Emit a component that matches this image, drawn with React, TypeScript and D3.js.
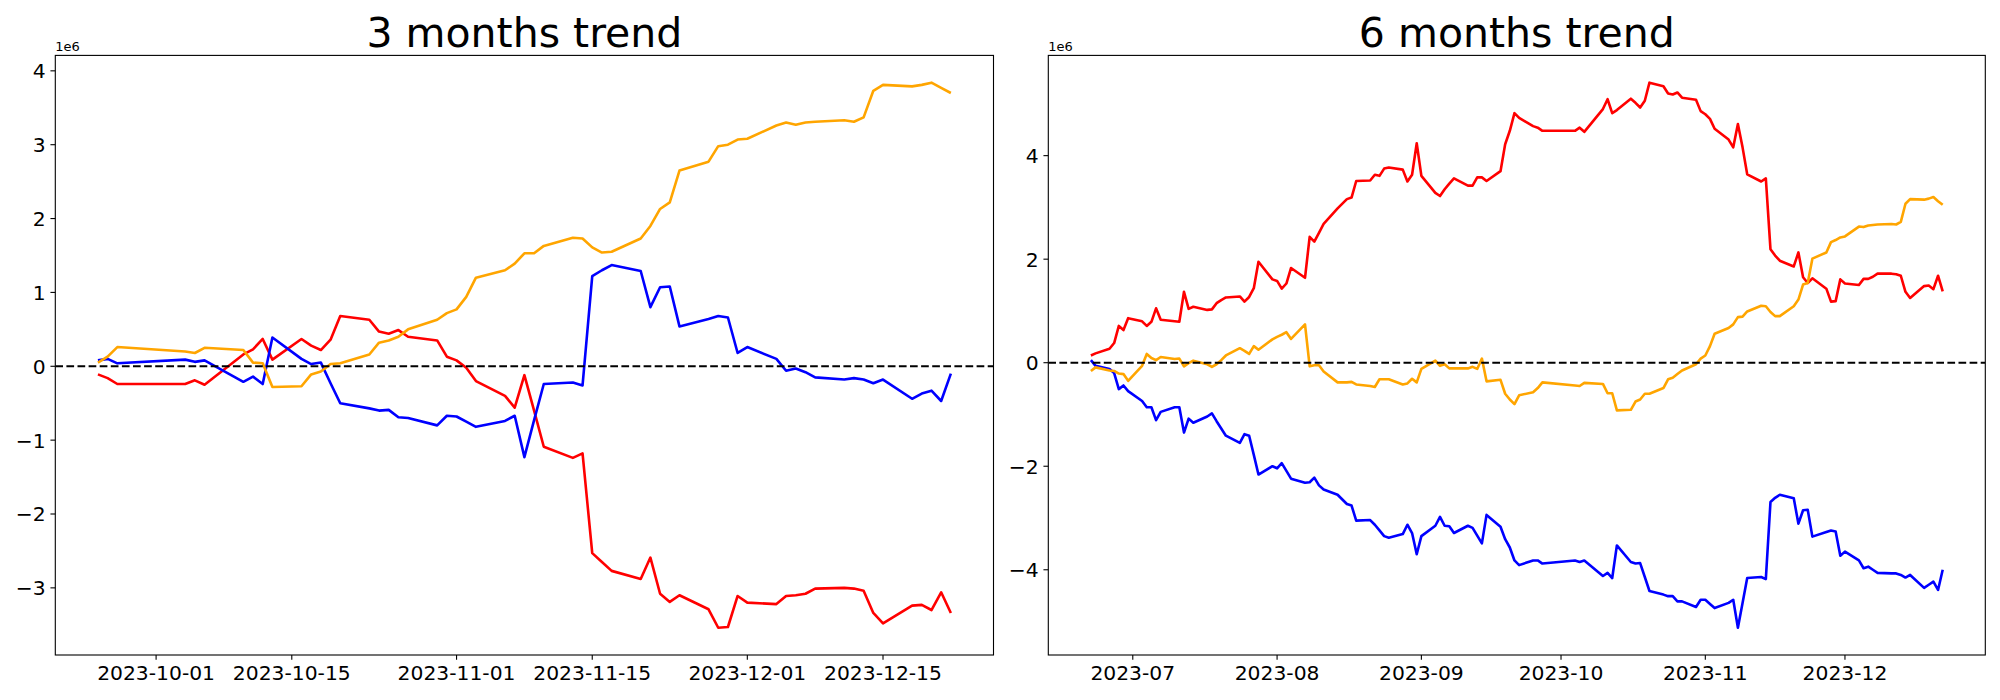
import React from "react";
import * as d3 from "d3";

// ---------- 3 months data ----------
const dates3m = [
  "2023-09-25","2023-09-26","2023-09-27",
  "2023-10-04","2023-10-05","2023-10-06","2023-10-10","2023-10-11","2023-10-12","2023-10-13","2023-10-16","2023-10-17","2023-10-18","2023-10-19","2023-10-20","2023-10-23","2023-10-24","2023-10-25","2023-10-26","2023-10-27","2023-10-30","2023-10-31",
  "2023-11-01","2023-11-02","2023-11-03","2023-11-06","2023-11-07","2023-11-08","2023-11-09","2023-11-10","2023-11-13","2023-11-14","2023-11-15","2023-11-16","2023-11-17","2023-11-20","2023-11-21","2023-11-22","2023-11-23","2023-11-24","2023-11-27","2023-11-28","2023-11-29","2023-11-30",
  "2023-12-01","2023-12-04","2023-12-05","2023-12-06","2023-12-07","2023-12-08","2023-12-11","2023-12-12","2023-12-13","2023-12-14","2023-12-15","2023-12-18","2023-12-19","2023-12-20","2023-12-21","2023-12-22",
];
const red3m = [
  -0.11, -0.16, -0.24,
  -0.24, -0.19, -0.25, 0.16, 0.23, 0.37, 0.09, 0.37, 0.28, 0.22, 0.36, 0.68, 0.63, 0.47, 0.44, 0.49, 0.40, 0.35, 0.13,
  0.08, -0.02, -0.20, -0.40, -0.56, -0.12, -0.60, -1.09, -1.24, -1.18, -2.53, -2.65, -2.77, -2.88, -2.59, -3.08, -3.19, -3.10, -3.29, -3.54, -3.53, -3.11,
  -3.20, -3.22, -3.11, -3.10, -3.08, -3.01, -3.00, -3.01, -3.04, -3.34, -3.48, -3.24, -3.23, -3.30, -3.06, -3.34,
];
const blue3m = [
  0.08, 0.10, 0.04,
  0.09, 0.06, 0.08, -0.21, -0.14, -0.24, 0.39, 0.10, 0.03, 0.05, -0.23, -0.50, -0.57, -0.60, -0.59, -0.69, -0.70, -0.80, -0.67,
  -0.68, -0.75, -0.82, -0.74, -0.67, -1.23, -0.73, -0.24, -0.22, -0.26, 1.22, 1.30, 1.37, 1.29, 0.80, 1.07, 1.08, 0.54, 0.64, 0.68, 0.66, 0.18,
  0.26, 0.10, -0.06, -0.03, -0.08, -0.15, -0.18, -0.16, -0.18, -0.23, -0.18, -0.44, -0.37, -0.33, -0.47, -0.10,
];
const orange3m = [
  0.05, 0.13, 0.26,
  0.20, 0.18, 0.25, 0.22, 0.05, 0.04, -0.28, -0.27, -0.11, -0.07, 0.03, 0.04, 0.16, 0.32, 0.35, 0.40, 0.50, 0.63, 0.72,
  0.77, 0.94, 1.20, 1.30, 1.39, 1.53, 1.53, 1.63, 1.74, 1.73, 1.61, 1.54, 1.55, 1.73, 1.90, 2.13, 2.22, 2.65, 2.77, 2.98, 3.00, 3.07,
  3.08, 3.26, 3.30, 3.27, 3.30, 3.31, 3.33, 3.31, 3.37, 3.73, 3.81, 3.79, 3.81, 3.84, 3.77, 3.70,
];
const xTicks3m = ["2023-10-01", "2023-10-15", "2023-11-01", "2023-11-15", "2023-12-01", "2023-12-15"];
const yTicks3m = [-3, -2, -1, 0, 1, 2, 3, 4];

// ---------- 6 months data ----------
const dates6m = [
  "2023-06-22","2023-06-23","2023-06-26","2023-06-27","2023-06-28","2023-06-29","2023-06-30",
  "2023-07-03","2023-07-04","2023-07-05","2023-07-06","2023-07-07","2023-07-10","2023-07-11","2023-07-12","2023-07-13","2023-07-14","2023-07-17","2023-07-18","2023-07-19","2023-07-20","2023-07-21","2023-07-24","2023-07-25","2023-07-26","2023-07-27","2023-07-28","2023-07-31",
  "2023-08-01","2023-08-02","2023-08-03","2023-08-04","2023-08-07","2023-08-08","2023-08-09","2023-08-10","2023-08-11","2023-08-14","2023-08-16","2023-08-17","2023-08-18","2023-08-21","2023-08-22","2023-08-23","2023-08-24","2023-08-25","2023-08-28","2023-08-29","2023-08-30","2023-08-31",
  "2023-09-01","2023-09-04","2023-09-05","2023-09-06","2023-09-07","2023-09-08","2023-09-11","2023-09-12","2023-09-13","2023-09-14","2023-09-15","2023-09-18","2023-09-19","2023-09-20","2023-09-21","2023-09-22","2023-09-25","2023-09-26","2023-09-27",
  "2023-10-04","2023-10-05","2023-10-06","2023-10-10","2023-10-11","2023-10-12","2023-10-13","2023-10-16","2023-10-17","2023-10-18","2023-10-19","2023-10-20","2023-10-23","2023-10-24","2023-10-25","2023-10-26","2023-10-27","2023-10-30","2023-10-31",
  "2023-11-01","2023-11-02","2023-11-03","2023-11-06","2023-11-07","2023-11-08","2023-11-09","2023-11-10","2023-11-13","2023-11-14","2023-11-15","2023-11-16","2023-11-17","2023-11-20","2023-11-21","2023-11-22","2023-11-23","2023-11-24","2023-11-27","2023-11-28","2023-11-29","2023-11-30",
  "2023-12-01","2023-12-04","2023-12-05","2023-12-06","2023-12-07","2023-12-08","2023-12-11","2023-12-12","2023-12-13","2023-12-14","2023-12-15","2023-12-18","2023-12-19","2023-12-20","2023-12-21","2023-12-22",
];
const red6m = [
  0.14, 0.18, 0.27, 0.38, 0.71, 0.63, 0.86,
  0.80, 0.71, 0.79, 1.05, 0.83, 0.80, 0.79, 1.37, 1.04, 1.08, 1.02, 1.03, 1.15, 1.21, 1.26, 1.28, 1.18, 1.27, 1.44, 1.95, 1.61,
  1.58, 1.43, 1.53, 1.83, 1.64, 2.43, 2.34, 2.51, 2.68, 2.98, 3.16, 3.19, 3.51, 3.52, 3.63, 3.61, 3.75, 3.77, 3.73, 3.50, 3.63, 4.24,
  3.61, 3.28, 3.22, 3.35, 3.46, 3.56, 3.42, 3.42, 3.58, 3.58, 3.51, 3.70, 4.22, 4.48, 4.82, 4.73, 4.57, 4.54, 4.48,
  4.48, 4.54, 4.46, 4.90, 5.09, 4.82, 4.88, 5.10, 5.02, 4.93, 5.06, 5.41, 5.34, 5.20, 5.18, 5.22, 5.12, 5.08, 4.86,
  4.80, 4.71, 4.52, 4.31, 4.16, 4.61, 4.16, 3.64, 3.50, 3.56, 2.19, 2.07, 1.97, 1.86, 2.13, 1.65, 1.54, 1.63, 1.43, 1.18, 1.19, 1.61,
  1.53, 1.50, 1.62, 1.62, 1.66, 1.72, 1.72, 1.71, 1.68, 1.37, 1.25, 1.48, 1.49, 1.42, 1.68, 1.38,
];
const blue6m = [
  0.05, -0.06, -0.12, -0.20, -0.51, -0.44, -0.55,
  -0.74, -0.86, -0.86, -1.11, -0.95, -0.86, -0.86, -1.35, -1.08, -1.16, -1.04, -0.98, -1.13, -1.27, -1.41, -1.55, -1.38, -1.41, -1.78, -2.16, -2.00,
  -2.04, -1.94, -2.09, -2.24, -2.32, -2.31, -2.22, -2.37, -2.45, -2.55, -2.73, -2.76, -3.05, -3.04, -3.13, -3.24, -3.35, -3.38, -3.31, -3.13, -3.29, -3.70,
  -3.35, -3.15, -2.98, -3.15, -3.16, -3.29, -3.15, -3.19, -3.34, -3.49, -2.94, -3.17, -3.41, -3.57, -3.82, -3.91, -3.82, -3.82, -3.88,
  -3.82, -3.85, -3.82, -4.12, -4.06, -4.16, -3.53, -3.85, -3.88, -3.87, -4.14, -4.41, -4.48, -4.51, -4.51, -4.61, -4.61, -4.72, -4.58,
  -4.58, -4.66, -4.74, -4.64, -4.58, -5.12, -4.64, -4.16, -4.14, -4.18, -2.69, -2.61, -2.55, -2.62, -3.11, -2.85, -2.84, -3.36, -3.27, -3.24, -3.26, -3.73,
  -3.65, -3.82, -3.97, -3.94, -4.00, -4.06, -4.07, -4.07, -4.10, -4.15, -4.10, -4.35, -4.29, -4.23, -4.39, -4.00,
];
const orange6m = [
  -0.16, -0.09, -0.15, -0.16, -0.21, -0.22, -0.35,
  -0.06, 0.17, 0.09, 0.05, 0.11, 0.07, 0.08, -0.07, -0.01, 0.04, -0.03, -0.08, -0.03, 0.05, 0.14, 0.28, 0.23, 0.17, 0.32, 0.25, 0.45,
  0.50, 0.54, 0.59, 0.46, 0.74, -0.07, -0.05, -0.05, -0.17, -0.38, -0.38, -0.37, -0.42, -0.45, -0.47, -0.32, -0.32, -0.32, -0.42, -0.40, -0.31, -0.38,
  -0.12, 0.04, -0.06, -0.03, -0.11, -0.11, -0.11, -0.08, -0.12, 0.08, -0.36, -0.33, -0.60, -0.71, -0.80, -0.63, -0.57, -0.49, -0.38,
  -0.44, -0.45, -0.39, -0.41, -0.59, -0.59, -0.92, -0.91, -0.75, -0.71, -0.60, -0.60, -0.49, -0.32, -0.29, -0.22, -0.15, -0.03, 0.08,
  0.14, 0.32, 0.56, 0.67, 0.74, 0.88, 0.89, 0.99, 1.10, 1.09, 0.98, 0.90, 0.90, 1.09, 1.22, 1.51, 1.54, 2.01, 2.13, 2.33, 2.37, 2.42,
  2.44, 2.63, 2.62, 2.65, 2.66, 2.67, 2.68, 2.67, 2.72, 3.07, 3.16, 3.15, 3.17, 3.20, 3.12, 3.05,
];
const xTicks6m = ["2023-07-01", "2023-08-01", "2023-09-01", "2023-10-01", "2023-11-01", "2023-12-01"];
const yTicks6m = [-4, -2, 0, 2, 4];

const SCALE = 1e6;
const FONT = "DejaVu Sans, sans-serif";
const parse = d3.utcParse("%Y-%m-%d");

type Series = { color: string; values: number[] };

function Panel(props: {
  left: number; right: number; top: number; bottom: number;
  title: string; dates: string[]; series: Series[];
  xTicks: string[]; xFmt: (d: Date) => string; yTicks: number[]; id: string;
}) {
  const { left, right, top, bottom, title, dates, series, xTicks, xFmt, yTicks, id } = props;
  const t = dates.map((s) => parse(s) as Date);
  const [t0, t1] = d3.extent(t) as [Date, Date];
  const span = +t1 - +t0;
  const x = d3.scaleUtc()
    .domain([new Date(+t0 - 0.05 * span), new Date(+t1 + 0.05 * span)])
    .range([left, right]);
  const all = series.flatMap((s) => s.values.map((v) => v * SCALE)).concat([0]);
  const [mn, mx] = d3.extent(all) as [number, number];
  const r = mx - mn;
  const y = d3.scaleLinear().domain([mn - 0.05 * r, mx + 0.05 * r]).range([bottom, top]);
  const line = d3.line<number>()
    .x((_, i) => x(t[i]))
    .y((v) => y(v * SCALE));
  const fmtY = (v: number) => (v < 0 ? "\u2212" + Math.abs(v) : String(v));
  const tickLen = 4.86;
  return (
    <g>
      <defs>
        <clipPath id={id}>
          <rect x={left} y={top} width={right - left} height={bottom - top} />
        </clipPath>
      </defs>
      <g clipPath={`url(#${id})`}>
        {series.map((s, i) => (
          <path key={i} d={line(s.values) || ""} fill="none" stroke={s.color}
            strokeWidth={2.6} strokeLinejoin="round" strokeLinecap="butt" />
        ))}
        <line x1={left} x2={right} y1={y(0)} y2={y(0)} stroke="#000"
          strokeWidth={2.1} strokeDasharray="7.7,3.4" />
      </g>
      <rect x={left} y={top} width={right - left} height={bottom - top}
        fill="none" stroke="#000" strokeWidth={1.1} />
      {xTicks.map((s) => {
        const d = parse(s) as Date;
        const px = x(d);
        return (
          <g key={s}>
            <line x1={px} x2={px} y1={bottom} y2={bottom + tickLen} stroke="#000" strokeWidth={1.1} />
            <text x={px} y={bottom + 25} fontSize={20.3} textAnchor="middle" fontFamily={FONT} fill="#000">
              {xFmt(d)}
            </text>
          </g>
        );
      })}
      {yTicks.map((v) => {
        const py = y(v * SCALE);
        return (
          <g key={v}>
            <line x1={left - tickLen} x2={left} y1={py} y2={py} stroke="#000" strokeWidth={1.1} />
            <text x={left - 9.7} y={py + 7.4} fontSize={20.3} textAnchor="end" fontFamily={FONT} fill="#000">
              {fmtY(v)}
            </text>
          </g>
        );
      })}
      <text x={left} y={top - 4.5} fontSize={13} fontFamily={FONT} fill="#000">1e6</text>
      <text x={(left + right) / 2} y={top - 8.5} fontSize={41} textAnchor="middle" fontFamily={FONT} fill="#000">
        {title}
      </text>
    </g>
  );
}

export default function App() {
  const fmtDay = d3.utcFormat("%Y-%m-%d");
  const fmtMonth = d3.utcFormat("%Y-%m");
  return (
    <svg width={2000} height={700} viewBox="0 0 2000 700"
      style={{ position: "absolute", left: 0, top: 0, background: "#fff" }}>
      <rect x={0} y={0} width={2000} height={700} fill="#fff" />
      <Panel id="c3" left={55.3} right={993.5} top={55.4} bottom={655}
        title="3 months trend" dates={dates3m}
        series={[
          { color: "red", values: red3m },
          { color: "blue", values: blue3m },
          { color: "orange", values: orange3m },
        ]}
        xTicks={xTicks3m} xFmt={fmtDay} yTicks={yTicks3m} />
      <Panel id="c6" left={1048.3} right={1985.3} top={55.4} bottom={655}
        title="6 months trend" dates={dates6m}
        series={[
          { color: "red", values: red6m },
          { color: "blue", values: blue6m },
          { color: "orange", values: orange6m },
        ]}
        xTicks={xTicks6m} xFmt={fmtMonth} yTicks={yTicks6m} />
    </svg>
  );
}
